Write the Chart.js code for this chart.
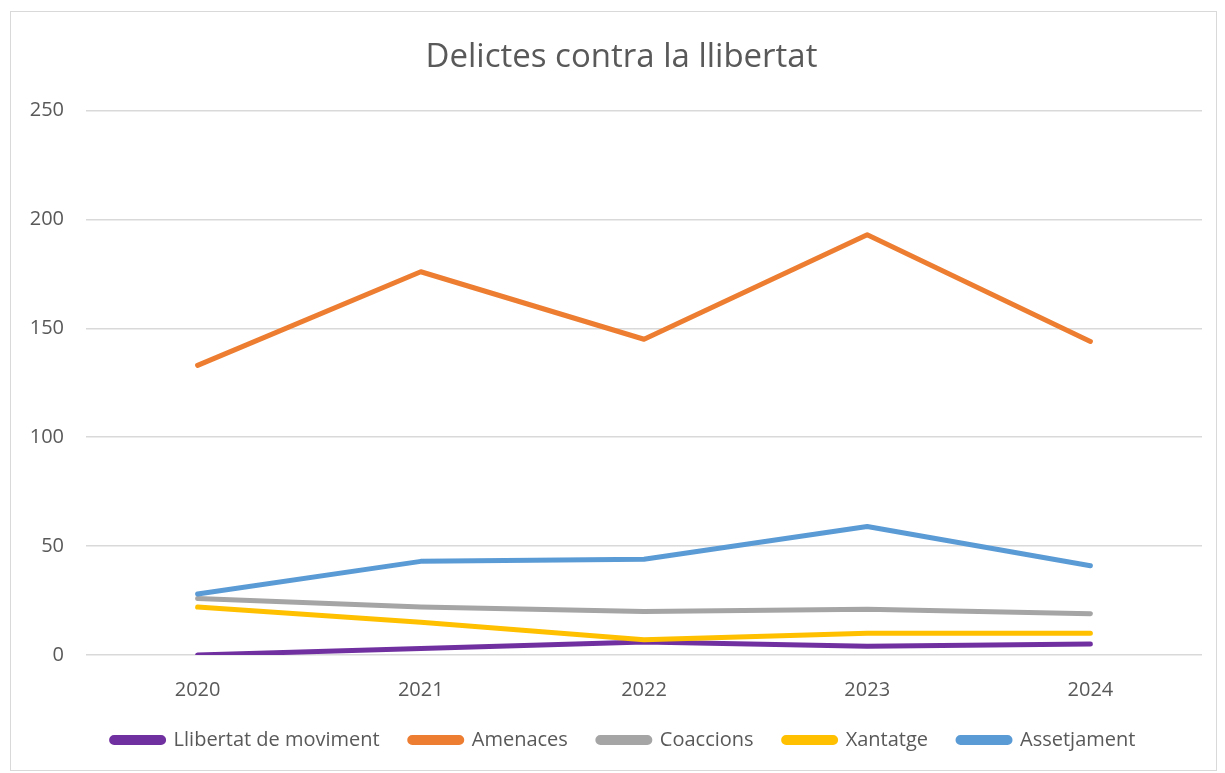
<!DOCTYPE html>
<html lang="ca">
<head>
<meta charset="UTF-8">
<title>Delictes contra la llibertat</title>
<script src="https://cdn.jsdelivr.net/npm/chart.js"></script>
<style>
    body { margin: 0; background: #fff; }
    .frame {
        position: absolute; left: 10px; top: 11px;
        width: 1205px; height: 758px;
        border: 1px solid #d9d9d9;
    }
    canvas { display: block; }
</style>
</head>
<body>
<div class="frame"><canvas id="chart" width="1205" height="758"></canvas></div>
<script>
    // Anys i dades
    const years = ['2020', '2021', '2022', '2023', '2024'];
    const llibertatMoviment = [0, 3, 6, 4, 5];
    const amenaces = [133, 176, 145, 193, 144];
    const coaccions = [26, 22, 20, 21, 19];
    const xantatge = [22, 15, 7, 10, 10];
    const assetjament = [28, 43, 44, 59, 41];

    const series = [
        { label: 'Llibertat de moviment', data: llibertatMoviment, color: '#7030a0' },
        { label: 'Amenaces', data: amenaces, color: '#ed7d31' },
        { label: 'Coaccions', data: coaccions, color: '#a5a5a5' },
        { label: 'Xantatge', data: xantatge, color: '#ffc000' },
        { label: 'Assetjament', data: assetjament, color: '#5b9bd5' }
    ];

    const font = "'Open Sans', 'Liberation Sans', sans-serif";

    // la llegenda queda més a prop de l'eix X, i títol i llegenda una mica a la dreta, com a l'original
    const layoutNudge = {
        id: 'layoutNudge',
        afterLayout(chart) {
            const lg = chart.legend;
            lg.top -= 17; lg.bottom -= 17;
            lg.left += 17; lg.right += 17;
            const tb = chart.titleBlock;
            tb.left += 15; tb.right += 15;
        }
    };

    new Chart(document.getElementById('chart'), {
        type: 'line',
        data: {
            labels: years,
            datasets: series.map((s, i) => ({
                label: s.label,
                data: s.data,
                borderColor: s.color,
                backgroundColor: s.color,
                borderWidth: 5,
                borderCapStyle: 'round',
                borderJoinStyle: 'round',
                pointRadius: 0,
                tension: 0,
                fill: false,
                order: series.length - i
            }))
        },
        options: {
            responsive: false,
            animation: false,
            devicePixelRatio: 1,
            layout: { padding: { left: 0, right: 14, top: 10, bottom: -7 } },
            plugins: {
                title: {
                    display: true,
                    text: 'Delictes contra la llibertat',
                    color: '#595959',
                    font: { family: font, size: 33, weight: 'normal' },
                    padding: { top: 16, bottom: 33 }
                },
                legend: {
                    position: 'bottom',
                    labels: {
                        color: '#595959',
                        font: { family: font, size: 20 },
                        boxWidth: 52,
                        boxHeight: 5,
                        useBorderRadius: true,
                        borderRadius: 2.5,
                        padding: 30,
                        sort: (a, b) => a.datasetIndex - b.datasetIndex
                    }
                },
                tooltip: { enabled: false }
            },
            scales: {
                x: {
                    offset: true,
                    grid: { display: false },
                    border: { display: false },
                    ticks: { color: '#595959', font: { family: font, size: 20 }, padding: 15, maxRotation: 0 }
                },
                y: {
                    min: 0,
                    max: 250,
                    afterFit: (s) => { s.width = 75; },
                    ticks: { stepSize: 50, color: '#595959', font: { family: font, size: 20 }, padding: 22 },
                    grid: { color: '#d9d9d9', lineWidth: 1.5, drawTicks: false },
                    border: { display: false }
                }
            }
        },
        plugins: [layoutNudge]
    });
</script>
</body>
</html>
